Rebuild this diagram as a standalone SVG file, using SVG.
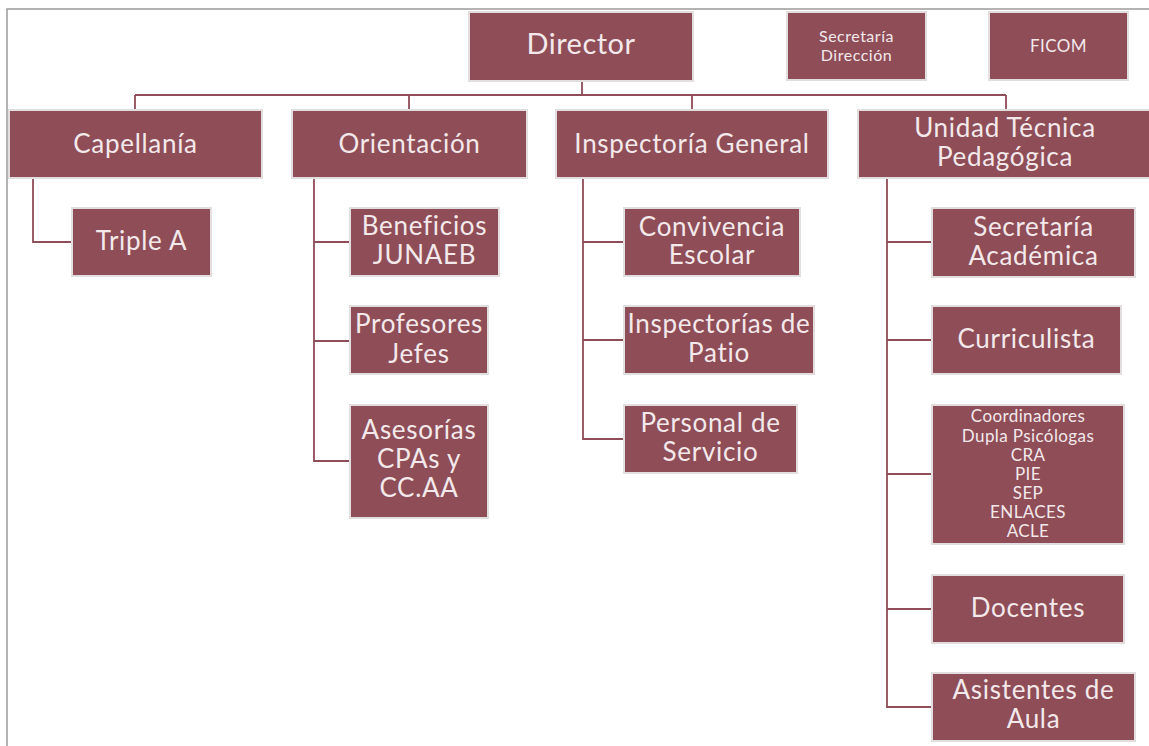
<svg xmlns="http://www.w3.org/2000/svg" width="1149" height="746" viewBox="0 0 1149 746">
<style>
.box{fill:#8e4d57;stroke:#e2dedf;stroke-width:2}
.t{font-family:Lato,"Open Sans",sans-serif;fill:#f3e9eb;text-anchor:middle;font-weight:400}
.l{font-size:26px;letter-spacing:0.7px}
.xl{font-size:29px;letter-spacing:0.5px}
.s{font-size:16px;letter-spacing:0.5px}
.m{font-size:17px;letter-spacing:0.4px}
.c{fill:none;stroke:#8e4d57;stroke-width:1.8}
.frame{fill:none;stroke:#9a9a9a;stroke-width:1.5}
</style>
<rect width="1149" height="746" fill="#ffffff"/>
<path class="frame" d="M7,746 V9 H1149"/>
<g id="connectors">
<path class="c" d="M582,81 V95 M135,95 H1006 M135,95 V110 M409,95 V110 M692,95 V110 M1006,95 V110"/>
<path class="c" d="M33,178 V242 H72"/>
<path class="c" d="M314,178 V461 H350 M314,242 H350 M314,341 H350"/>
<path class="c" d="M583,178 V439 H624 M583,242 H624 M583,340 H624"/>
<path class="c" d="M887,178 V707 H932 M887,242 H932 M887,340 H932 M887,474 H932 M887,609 H932"/>
</g>
<g id="director"><rect class="box" x="469" y="12" width="224" height="69"/><text class="t xl" x="581" y="54">Director</text></g>
<g id="secretaria-direccion"><rect class="box" x="787" y="12" width="139" height="68"/><text class="t s" x="856.5" y="42">Secretaría</text><text class="t s" x="856.5" y="61">Dirección</text></g>
<g id="ficom"><rect class="box" x="989" y="12" width="139" height="68"/><text class="t m" x="1058.5" y="52">FICOM</text></g>
<g id="capellania"><rect class="box" x="9" y="110" width="253" height="68"/><text class="t l" x="135.5" y="153">Capellanía</text></g>
<g id="orientacion"><rect class="box" x="292" y="110" width="235" height="68"/><text class="t l" x="409.5" y="153">Orientación</text></g>
<g id="inspectoria-general"><rect class="box" x="556" y="110" width="272" height="68"/><text class="t l" x="692" y="153">Inspectoría General</text></g>
<g id="utp"><rect class="box" x="858" y="110" width="300" height="68"/><text class="t l" x="1005" y="137">Unidad Técnica</text><text class="t l" x="1005" y="166">Pedagógica</text></g>
<g id="triple-a"><rect class="box" x="72" y="208" width="139" height="68"/><text class="t l" x="141.5" y="250">Triple A</text></g>
<g id="beneficios-junaeb"><rect class="box" x="350" y="208" width="149" height="68"/><text class="t l" x="424.5" y="235">Beneficios</text><text class="t l" x="424.5" y="264">JUNAEB</text></g>
<g id="profesores-jefes"><rect class="box" x="350" y="306" width="138" height="68"/><text class="t l" x="419" y="333">Profesores</text><text class="t l" x="419" y="363">Jefes</text></g>
<g id="asesorias"><rect class="box" x="350" y="405" width="138" height="113"/><text class="t l" x="419" y="439">Asesorías</text><text class="t l" x="419" y="468">CPAs y</text><text class="t l" x="419" y="497">CC.AA</text></g>
<g id="convivencia-escolar"><rect class="box" x="624" y="208" width="176" height="68"/><text class="t l" x="712" y="236">Convivencia</text><text class="t l" x="712" y="264">Escolar</text></g>
<g id="inspectorias-patio"><rect class="box" x="624" y="306" width="190" height="68"/><text class="t l" x="719" y="333">Inspectorías de</text><text class="t l" x="719" y="362">Patio</text></g>
<g id="personal-servicio"><rect class="box" x="624" y="405" width="173" height="68"/><text class="t l" x="710.5" y="432">Personal de</text><text class="t l" x="710.5" y="461">Servicio</text></g>
<g id="secretaria-academica"><rect class="box" x="932" y="208" width="203" height="69"/><text class="t l" x="1033.5" y="236">Secretaría</text><text class="t l" x="1033.5" y="265">Académica</text></g>
<g id="curriculista"><rect class="box" x="932" y="306" width="189" height="68"/><text class="t l" x="1026.5" y="348">Curriculista</text></g>
<g id="coordinadores"><rect class="box" x="932" y="405" width="192" height="139"/>
<text class="t m" x="1028" y="422">Coordinadores</text>
<text class="t m" x="1028" y="442">Dupla Psicólogas</text>
<text class="t m" x="1028" y="461">CRA</text>
<text class="t m" x="1028" y="480">PIE</text>
<text class="t m" x="1028" y="499">SEP</text>
<text class="t m" x="1028" y="518">ENLACES</text>
<text class="t m" x="1028" y="537">ACLE</text></g>
<g id="docentes"><rect class="box" x="932" y="575" width="192" height="68"/><text class="t l" x="1028" y="617">Docentes</text></g>
<g id="asistentes-aula"><rect class="box" x="932" y="673" width="203" height="68"/><text class="t l" x="1033.5" y="699">Asistentes de</text><text class="t l" x="1033.5" y="728">Aula</text></g>
</svg>
